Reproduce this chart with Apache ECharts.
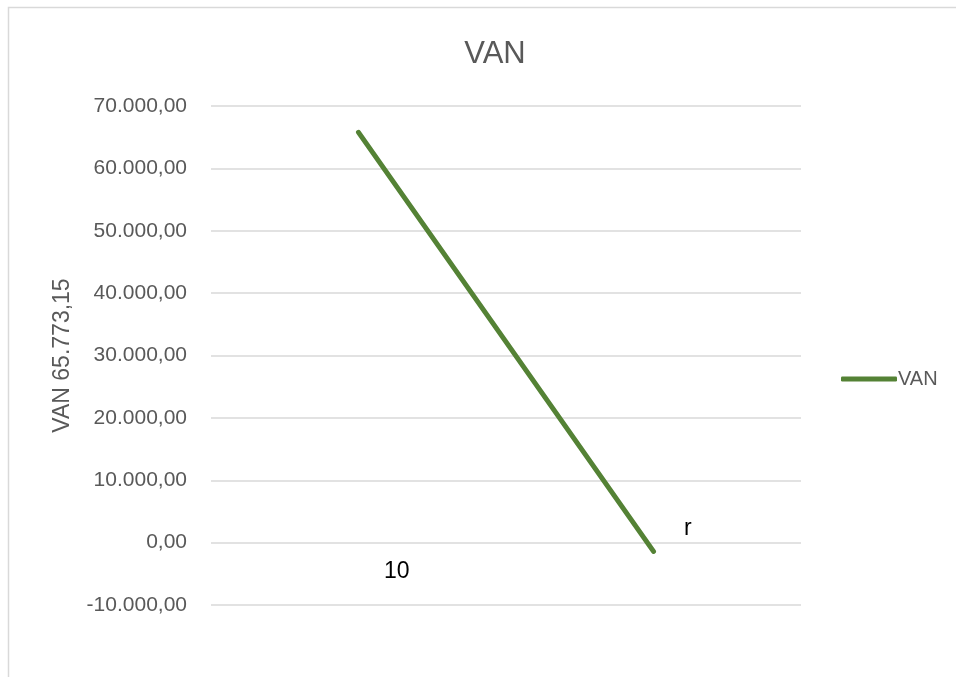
<!DOCTYPE html>
<html>
<head>
<meta charset="utf-8">
<script src="https://cdn.jsdelivr.net/npm/echarts@6/dist/echarts.min.js"></script>
<style>
  html, body { margin: 0; padding: 0; background: #fff; }
  #chart { width: 956px; height: 677px; }
</style>
</head>
<body>
<div id="chart"></div>
<script>
// datos del gráfico VAN
var categories = ['10', 'r']
var vanValues = [65773.15, -1400]
var yTicks = { min: -10000, max: 70000, interval: 10000 }

// formato es-ES: 70.000,00
function fmt(val) {
  var neg = val < 0
  var parts = Math.abs(val).toFixed(2).split('.')
  var ent = parts[0].replace(/\B(?=(\d{3})+(?!\d))/g, '.')
  return (neg ? '-' : '') + ent + ',' + parts[1]
}

var chart = echarts.init(document.getElementById('chart'))

chart.setOption({
  animation: false,
  textStyle: { fontFamily: 'Liberation Sans' },
  title: {
    text: 'VAN',
    left: 490,
    textAlign: 'center',
    top: 34,
    textStyle: { color: '#595959', fontSize: 31, fontWeight: 'normal' }
  },
  legend: {
    data: ['VAN'],
    orient: 'vertical',
    left: 841,
    top: 369,
    padding: 0,
    itemWidth: 56,
    itemHeight: 5,
    icon: 'roundRect',
    itemStyle: { color: '#548235' },
    textStyle: { color: '#595959', fontSize: 20, padding: [0, 0, 0, -4] }
  },
  grid: {
    left: 211,
    width: 590,
    top: 106,
    height: 499,
    containLabel: false
  },
  xAxis: {
    type: 'category',
    data: categories,
    boundaryGap: true,
    axisLine: { show: false },
    axisTick: { show: false },
    axisLabel: { show: false },
    splitLine: { show: false }
  },
  yAxis: {
    type: 'value',
    min: yTicks.min,
    max: yTicks.max,
    interval: yTicks.interval,
    name: 'VAN 65.773,15',
    nameLocation: 'middle',
    nameGap: 137,
    nameTextStyle: { color: '#595959', fontSize: 23 },
    axisLine: { show: false },
    axisTick: { show: false },
    axisLabel: {
      color: '#595959',
      fontSize: 21,
      margin: 24,
      formatter: fmt
    },
    splitLine: { lineStyle: { color: '#d9d9d9', width: 1.5 } }
  },
  series: [
    {
      name: 'VAN',
      type: 'line',
      data: vanValues,
      showSymbol: false,
      symbol: 'none',
      itemStyle: { color: '#548235' },
      lineStyle: { color: '#548235', width: 5, cap: 'round' }
    }
  ],
  graphic: [
    // borde del área del gráfico
    {
      type: 'rect',
      left: 6,
      top: 5,
      shape: { width: 2000, height: 2000 },
      style: { fill: 'none', stroke: '#d9d9d9', lineWidth: 1.5 },
      silent: true
    },
    // cuadros de texto
    {
      type: 'text',
      left: 384,
      top: 560,
      style: { text: categories[0], fill: '#000', font: '23px "Liberation Sans"' }
    },
    {
      type: 'text',
      left: 684,
      top: 517,
      style: { text: categories[1], fill: '#000', font: '23px "Liberation Sans"' }
    }
  ]
})
</script>
</body>
</html>
